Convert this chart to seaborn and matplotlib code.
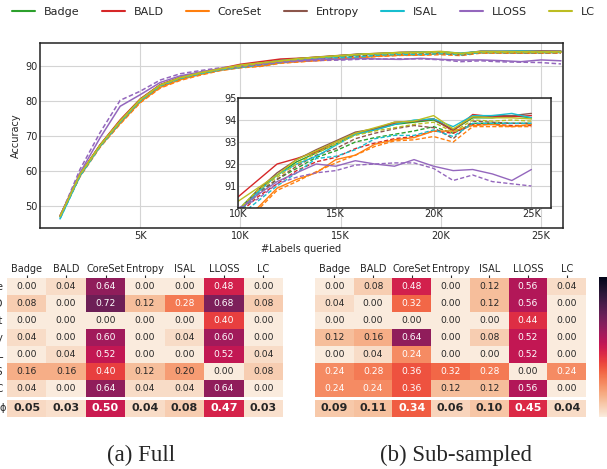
import numpy as np
import pandas as pd
import matplotlib
matplotlib.use("Agg")
import matplotlib.pyplot as plt
from matplotlib.lines import Line2D
import seaborn as sns

# ---------------- data ----------------
methods = ["Badge", "BALD", "CoreSet", "Entropy", "ISAL", "LLOSS", "LC"]
colors = ["#2ca02c", "#d62728", "#ff7f0e", "#8c564b", "#17becf", "#9467bd", "#bcbd22"]
labels_k = list(range(1, 27))  # thousands of labels queried

full_acc = {
    "Badge":   [47.0, 59.0, 67.3, 74.2, 80.3, 84.5, 86.6, 88.0, 89.1,
                89.9, 90.8, 91.5, 92.1, 92.5, 92.9, 93.35, 93.55, 93.8, 93.9, 94.0, 93.55, 94.1, 94.1, 94.2, 94.1, 94.1],
    "BALD":    [47.2, 59.2, 67.5, 74.6, 80.6, 84.7, 86.8, 88.2, 89.3,
                90.5, 91.25, 92.0, 92.25, 92.55, 93.0, 93.4, 93.6, 93.85, 93.95, 94.05, 93.5, 94.25, 94.15, 94.15, 94.2, 94.2],
    "CoreSet": [47.0, 58.6, 67.0, 73.6, 79.7, 83.9, 86.1, 87.6, 88.8,
                89.6, 90.0, 90.9, 91.3, 91.6, 92.2, 92.4, 92.9, 93.1, 93.2, 93.5, 93.5, 93.75, 93.8, 93.7, 93.8, 93.9],
    "Entropy": [47.1, 59.0, 67.4, 74.3, 80.4, 84.6, 86.7, 88.1, 89.1,
                89.8, 90.8, 91.6, 92.2, 92.65, 93.05, 93.45, 93.6, 93.9, 93.95, 94.05, 93.55, 94.15, 94.2, 94.2, 94.3, 94.25],
    "ISAL":    [46.3, 58.7, 67.2, 74.0, 80.2, 84.5, 86.6, 88.0, 89.0,
                89.8, 90.7, 91.5, 92.0, 92.35, 92.85, 93.35, 93.55, 93.8, 94.0, 94.05, 93.7, 94.2, 94.2, 94.3, 94.1, 94.15],
    "LLOSS":   [47.0, 59.5, 69.5, 78.5, 81.8, 85.3, 87.2, 88.3, 89.2,
                89.9, 90.6, 91.2, 91.6, 92.0, 91.9, 92.15, 92.0, 91.9, 92.2, 91.9, 91.7, 91.75, 91.55, 91.25, 91.75, 91.5],
    "LC":      [47.0, 59.1, 67.4, 74.3, 80.4, 84.6, 86.7, 88.1, 89.2,
                90.3, 90.9, 91.5, 92.2, 92.6, 93.0, 93.4, 93.65, 93.9, 93.95, 94.2, 93.6, 94.15, 94.1, 94.1, 94.05, 94.1],
}
sub_acc = {
    "Badge":   [47.0, 58.9, 67.2, 74.0, 80.2, 84.4, 86.5, 87.9, 89.0,
                89.8, 90.6, 91.3, 91.8, 92.3, 92.6, 93.0, 93.2, 93.35, 93.5, 93.7, 93.4, 93.85, 93.85, 93.85, 93.85, 93.9],
    "BALD":    [47.0, 58.8, 67.1, 74.1, 80.1, 84.3, 86.4, 87.9, 88.9,
                89.7, 90.5, 91.1, 91.7, 92.1, 92.3, 92.7, 92.95, 93.15, 93.25, 93.5, 93.4, 93.8, 93.8, 93.75, 93.75, 93.8],
    "CoreSet": [46.8, 58.4, 66.8, 73.4, 79.5, 83.7, 85.9, 87.4, 88.7,
                89.5, 89.9, 90.8, 91.2, 91.65, 92.05, 92.4, 92.8, 93.05, 93.1, 93.25, 93.0, 93.7, 93.7, 93.7, 93.7, 93.8],
    "Entropy": [47.0, 58.9, 67.2, 74.1, 80.2, 84.4, 86.5, 88.0, 89.0,
                89.8, 90.7, 91.3, 91.9, 92.4, 92.7, 93.15, 93.4, 93.6, 93.75, 93.65, 93.15, 93.95, 93.9, 93.85, 93.85, 93.9],
    "ISAL":    [46.4, 58.6, 67.0, 73.9, 80.0, 84.3, 86.4, 87.8, 88.9,
                89.6, 90.3, 91.0, 91.6, 92.25, 92.35, 92.65, 93.15, 93.3, 93.3, 93.55, 93.25, 93.85, 93.85, 93.85, 93.85, 93.9],
    "LLOSS":   [47.0, 60.5, 71.0, 80.2, 82.8, 86.0, 87.8, 88.7, 89.5,
                90.0, 90.4, 91.1, 91.4, 91.6, 91.7, 91.95, 92.0, 92.05, 92.05, 91.8, 91.25, 91.5, 91.2, 91.1, 91.0, 90.6],
    "LC":      [47.0, 59.0, 67.3, 74.2, 80.3, 84.5, 86.6, 88.0, 89.1,
                89.9, 90.8, 91.4, 92.0, 92.5, 92.9, 93.3, 93.5, 93.65, 93.8, 93.9, 93.45, 94.0, 93.95, 94.0, 93.95, 94.0],
}

row_labels = ["Badge", "BALD", "CoreSet", "Entropy", "ISAL", "LLOSS", "LC"]
mean_label = ["ϕ"]
full_matrix = [
    [0.00, 0.04, 0.64, 0.00, 0.00, 0.48, 0.00],
    [0.08, 0.00, 0.72, 0.12, 0.28, 0.68, 0.08],
    [0.00, 0.00, 0.00, 0.00, 0.00, 0.40, 0.00],
    [0.04, 0.00, 0.60, 0.00, 0.04, 0.60, 0.00],
    [0.00, 0.04, 0.52, 0.00, 0.00, 0.52, 0.04],
    [0.16, 0.16, 0.40, 0.12, 0.20, 0.00, 0.08],
    [0.04, 0.00, 0.64, 0.04, 0.04, 0.64, 0.00],
]
full_mean = [0.05, 0.03, 0.50, 0.04, 0.08, 0.47, 0.03]
sub_matrix = [
    [0.00, 0.08, 0.48, 0.00, 0.12, 0.56, 0.04],
    [0.04, 0.00, 0.32, 0.00, 0.12, 0.56, 0.00],
    [0.00, 0.00, 0.00, 0.00, 0.00, 0.44, 0.00],
    [0.12, 0.16, 0.64, 0.00, 0.08, 0.52, 0.00],
    [0.00, 0.04, 0.24, 0.00, 0.00, 0.52, 0.00],
    [0.24, 0.28, 0.36, 0.32, 0.28, 0.00, 0.24],
    [0.24, 0.24, 0.36, 0.12, 0.12, 0.56, 0.00],
]
sub_mean = [0.09, 0.11, 0.34, 0.06, 0.10, 0.45, 0.04]

captions = ["(a) Full", "(b) Sub-sampled"]

# ---------------- style ----------------
sns.set_style("whitegrid")
plt.rcParams.update({
    "axes.edgecolor": "#222222",
    "grid.color": "#d4d4d4",
    "grid.linewidth": 0.8,
    "font.family": ["DejaVu Sans"],
})

rows = []
for m in methods:
    for x, v in zip(labels_k, full_acc[m]):
        rows.append((m, "Full", x * 1000, v))
    for x, v in zip(labels_k, sub_acc[m]):
        rows.append((m, "Sub", x * 1000, v))
df = pd.DataFrame(rows, columns=["method", "setting", "labels", "accuracy"])
palette = dict(zip(methods, colors))
dashes = {"Full": "", "Sub": (3, 1.6)}

fig = plt.figure(figsize=(6.07, 4.69), dpi=100)

# ---------------- main line plot ----------------
ax = fig.add_axes([0.0659, 0.5139, 0.8616, 0.3945])
sns.lineplot(data=df, x="labels", y="accuracy", hue="method", style="setting",
             palette=palette, dashes=dashes, hue_order=methods,
             style_order=["Full", "Sub"], linewidth=1.1, ax=ax, legend=False)
ax.set_xlim(0, 26100)
ax.set_ylim(43.7, 96.6)
ax.set_xticks([5000, 10000, 15000, 20000, 25000])
ax.set_xticklabels(["5K", "10K", "15K", "20K", "25K"])
ax.set_yticks([50, 60, 70, 80, 90])
ax.tick_params(labelsize=7, length=0, pad=2)
ax.set_xlabel("#Labels queried", fontsize=7, labelpad=2)
ax.set_ylabel("Accuracy", fontsize=7, labelpad=3)
for s in ax.spines.values():
    s.set_linewidth(1.1)
    s.set_color("#222222")

# ---------------- inset ----------------
axi = fig.add_axes([0.392, 0.5565, 0.5157, 0.2345])
dfi = df[(df["labels"] >= 10000) & (df["labels"] <= 25000)]
sns.lineplot(data=dfi, x="labels", y="accuracy", hue="method", style="setting",
             palette=palette, dashes=dashes, hue_order=methods,
             style_order=["Full", "Sub"], linewidth=1.0, ax=axi, legend=False)
axi.set_facecolor("white")
axi.set_xlim(10000, 26000)
axi.set_ylim(90, 95)
axi.set_xticks([10000, 15000, 20000, 25000])
axi.set_xticklabels(["10K", "15K", "20K", "25K"])
axi.set_yticks([91, 92, 93, 94, 95])
axi.tick_params(labelsize=7, length=0, pad=1)
axi.set_xlabel("")
axi.set_ylabel("")
for s in axi.spines.values():
    s.set_linewidth(1.1)
    s.set_color("#222222")

# ---------------- legend ----------------
handles = [Line2D([], [], color=c, lw=1.5) for c in colors]
fig.legend(handles, methods, loc="center", bbox_to_anchor=(0.5, 0.974), ncol=7,
           frameon=False, fontsize=8, handlelength=2.07, columnspacing=2.0,
           handletextpad=0.8)

# ---------------- heatmaps ----------------
cmap = "rocket_r"
cax = fig.add_axes([0.9868, 0.1109, 0.03, 0.2985])

def draw_heat(left, width, matrix, mean, show_rows, with_cbar):
    axh = fig.add_axes([left, 0.1535, width, 0.2537])
    axm = fig.add_axes([left, 0.1109, width, 0.03625])
    dfm = pd.DataFrame(matrix, index=row_labels, columns=methods)
    sns.heatmap(dfm, ax=axh, cmap=cmap, vmin=0, vmax=1, annot=True, fmt=".2f",
                annot_kws={"fontsize": 6.6}, cbar=with_cbar,
                cbar_ax=cax if with_cbar else None,
                xticklabels=True, yticklabels=show_rows)
    axh.xaxis.tick_top()
    axh.tick_params(axis="x", labelsize=7, length=2, pad=1, rotation=0)
    axh.tick_params(axis="y", labelsize=7, length=2, pad=1, rotation=0)
    axh.set_xlabel("")
    axh.set_ylabel("")
    dmean = pd.DataFrame([mean], index=mean_label, columns=methods)
    sns.heatmap(dmean, ax=axm, cmap=cmap, vmin=0, vmax=1, annot=True, fmt=".2f",
                annot_kws={"fontsize": 8, "fontweight": "bold"}, cbar=False,
                xticklabels=False, yticklabels=show_rows)
    axm.tick_params(axis="y", labelsize=7, length=0, pad=1, rotation=0)
    axm.set_xlabel("")
    axm.set_ylabel("")
    return axh, axm

draw_heat(0.0115, 0.4547, full_matrix, full_mean, True, False)
draw_heat(0.519, 0.4465, sub_matrix, sub_mean, False, True)
cax.tick_params(length=2, labelright=False)

# ---------------- captions ----------------
fig.text(0.232, 0.0299, captions[0], ha="center", va="center",
         family="Liberation Serif", fontsize=16.5)
fig.text(0.751, 0.0299, captions[1], ha="center", va="center",
         family="Liberation Serif", fontsize=16.5)

fig.savefig("out.png", dpi=100)
